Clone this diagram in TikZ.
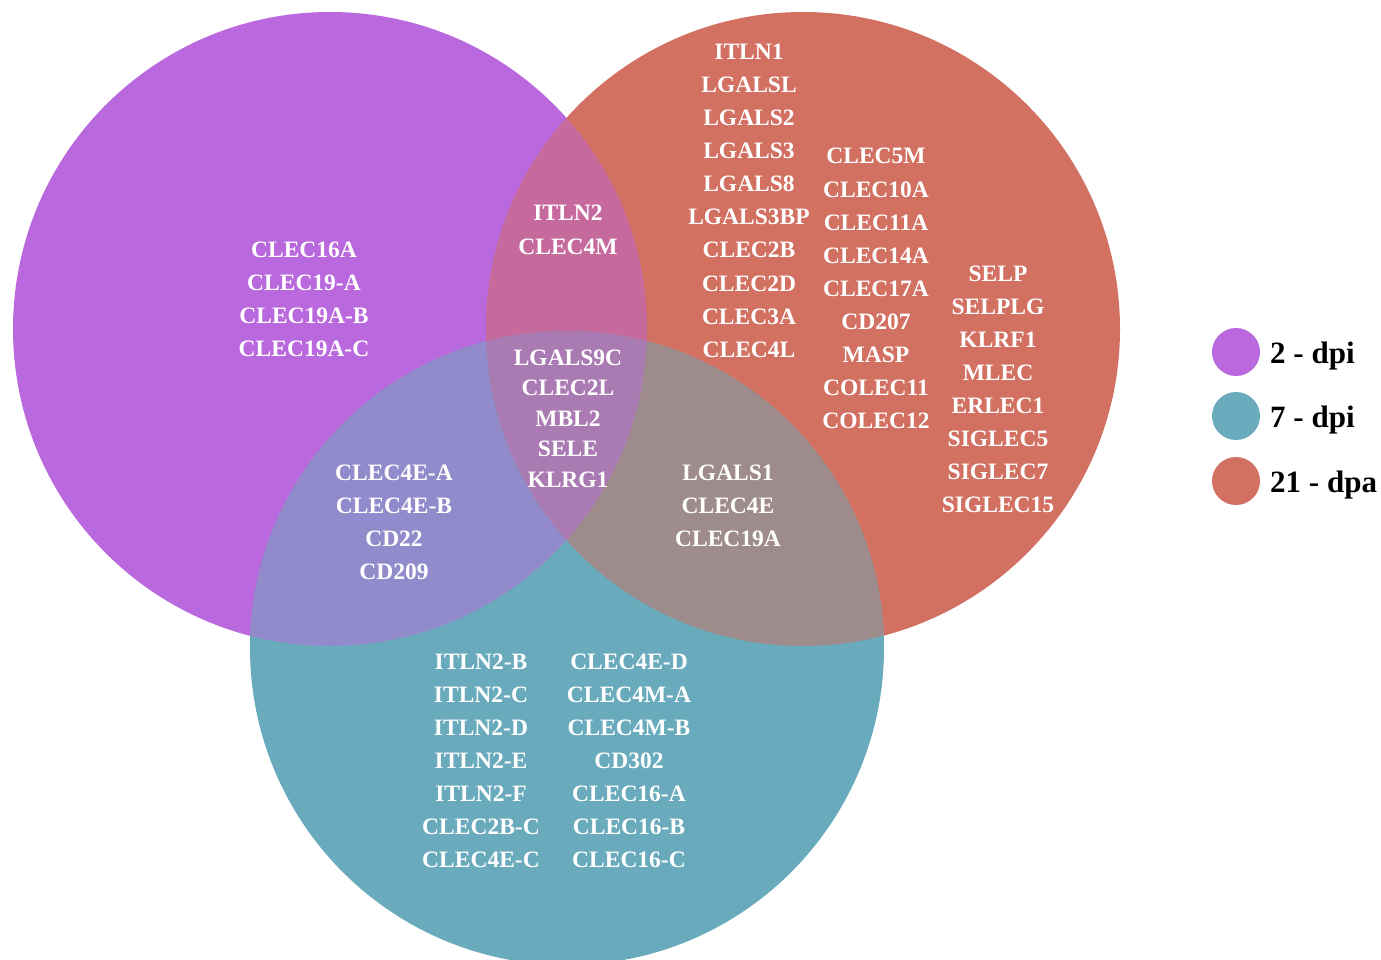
\documentclass[tikz,border=0pt]{standalone}
\usepackage{fontspec}
\setmainfont{Liberation Serif}
\definecolor{cP}{RGB}{185,104,221}
\definecolor{cT}{RGB}{105,171,188}
\definecolor{cR}{RGB}{210,112,98}
\definecolor{cPR}{RGB}{198,106,158}
\definecolor{cPT}{RGB}{146,139,203}
\definecolor{cRT}{RGB}{158,140,140}
\definecolor{cPRT}{RGB}{170,123,179}
\tikzset{
  gene/.style={text=white, font=\fontsize{23.5}{28}\selectfont\bfseries, anchor=base, inner sep=0pt},
  legtxt/.style={text=black, font=\fontsize{31}{34}\selectfont\bfseries, anchor=base west, inner sep=0pt},
}
\def\circP{(330,329) circle[radius=317]}
\def\circR{(803,329) circle[radius=317]}
\def\circT{(567,648) circle[radius=317]}
\begin{document}
\begin{tikzpicture}[x=1pt,y=-1pt]
\useasboundingbox (0,0) rectangle (1381,960);
\clip (0,0) rectangle (1381,960);
% circles
\fill[cP] \circP;
\fill[cR] \circR;
\fill[cT] \circT;
\begin{scope}
  \clip \circP;
  \fill[cPR] \circR;
  \fill[cPT] \circT;
\end{scope}
\begin{scope}
  \clip \circR;
  \fill[cRT] \circT;
\end{scope}
\begin{scope}
  \clip \circP;
  \clip \circR;
  \fill[cPRT] \circT;
\end{scope}
% helper: centred column of genes, y values are cap centres
\newcommand{\genecol}[4]{%
  \foreach \g [count=\i from 0] in {#4} {
    \node[gene] (#1-\i) at (#2, #3+\i*33+8) {\g};
  }%
}
% purple only
\genecol{p}{304}{249}{CLEC16A,CLEC19-A,CLEC19A-B,CLEC19A-C}
% purple-red
\genecol{pr}{568}{213}{ITLN2,CLEC4M}
% triple
\foreach \g [count=\i from 0] in {LGALS9C,CLEC2L,MBL2,SELE,KLRG1} {
  \node[gene] (prt-\i) at (568, 357+\i*30.5+8) {\g};
}
% purple-teal
\genecol{pt}{394}{472}{CLEC4E-A,CLEC4E-B,CD22,CD209}
% red-teal
\genecol{rt}{728}{472}{LGALS1,CLEC4E,CLEC19A}
% red only
\genecol{ra}{749}{52}{ITLN1,LGALSL,LGALS2,LGALS3,LGALS8,LGALS3BP,CLEC2B,CLEC2D,CLEC3A,CLEC4L}
\genecol{rb}{876}{156}{CLEC5M,CLEC10A,CLEC11A,CLEC14A,CLEC17A,CD207,MASP,COLEC11,COLEC12}
\genecol{rc}{998}{273}{SELP,SELPLG,KLRF1,MLEC,ERLEC1,SIGLEC5,SIGLEC7,SIGLEC15}
% teal only
\genecol{ta}{481}{661}{ITLN2-B,ITLN2-C,ITLN2-D,ITLN2-E,ITLN2-F,CLEC2B-C,CLEC4E-C}
\genecol{tb}{629}{661}{CLEC4E-D,CLEC4M-A,CLEC4M-B,CD302,CLEC16-A,CLEC16-B,CLEC16-C}
% legend
\fill[cP] (1236,352) circle[radius=24];
\fill[cT] (1236,416) circle[radius=24];
\fill[cR] (1236,481) circle[radius=24];
\node[legtxt] (l1) at (1270,363) {2 - dpi};
\node[legtxt] (l2) at (1270,427) {7 - dpi};
\node[legtxt] (l3) at (1270,492) {21 - dpa};
\end{tikzpicture}
\end{document}
